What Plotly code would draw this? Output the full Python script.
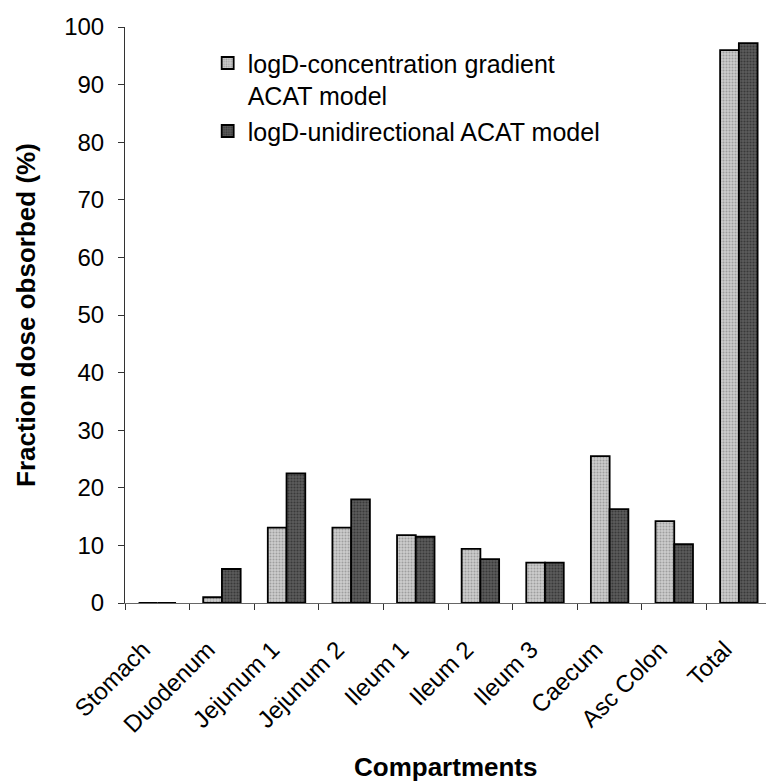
import plotly.graph_objects as go

compartments = ["Stomach", "Duodenum", "Jejunum 1", "Jejunum 2", "Ileum 1",
                "Ileum 2", "Ileum 3", "Caecum", "Asc Colon", "Total"]
conc_gradient = [0, 1.0, 13.1, 13.1, 11.8, 9.4, 7.0, 25.5, 14.2, 96.0]
unidirectional = [0, 5.9, 22.5, 18.0, 11.5, 7.6, 7.0, 16.3, 10.2, 97.2]
y_ticks = list(range(0, 101, 10))

FONT = "Arial, Liberation Sans, sans-serif"

fig = go.Figure()
fig.add_trace(go.Bar(
    x=compartments, y=conc_gradient,
    name="logD-concentration gradient<br>ACAT model",
    marker=dict(color="#bdbdbd",
                line=dict(color="black", width=1.8),
                pattern=dict(shape=".", fgcolor="#707070", bgcolor="#cccccc",
                             size=3, solidity=0.35)),
))
fig.add_trace(go.Bar(
    x=compartments, y=unidirectional,
    name="logD-unidirectional ACAT model",
    marker=dict(color="#404040",
                line=dict(color="black", width=1.8),
                pattern=dict(shape=".", fgcolor="#151515", bgcolor="#5c5c5c",
                             size=3, solidity=0.4)),
))

# axis titles placed as annotations for precise positioning
fig.add_annotation(text="<b>Compartments</b>", xref="paper", yref="paper",
                   x=0.5, y=-0.285, xanchor="center", yanchor="middle",
                   showarrow=False, font=dict(size=26, family=FONT))
fig.add_annotation(text="<b>Fraction dose obsorbed (%)</b>", xref="paper", yref="paper",
                   x=-0.1545, y=0.5, xanchor="center", yanchor="middle",
                   textangle=-90, showarrow=False, font=dict(size=26, family=FONT))

fig.update_layout(
    width=766, height=781,
    margin=dict(l=125, r=0, t=27, b=178),
    paper_bgcolor="white", plot_bgcolor="white",
    barmode="group", bargap=0.42, bargroupgap=0,
    font=dict(family=FONT, size=24, color="black"),
    showlegend=True,
    legend=dict(x=0.129, y=0.977, xanchor="left", yanchor="top",
                bgcolor="rgba(0,0,0,0)", font=dict(size=25, family=FONT),
                valign="top", tracegroupgap=12),
    xaxis=dict(
        range=[-0.5, 9.42], automargin=False,
        showline=True, linecolor="#666666", linewidth=1,
        ticks="outside", tickson="boundaries", ticklen=6, tickcolor="#333333",
        tickangle=-45, tickfont=dict(size=24, family=FONT),
        ticklabelstandoff=22, ticklabelshift=-14,
        showgrid=False, zeroline=False,
    ),
    yaxis=dict(
        range=[0, 100], tickvals=y_ticks, automargin=False,
        showline=True, linecolor="#333333", linewidth=1,
        ticks="outside", ticklen=6, tickcolor="#333333",
        tickfont=dict(size=24, family=FONT), ticklabelstandoff=9,
        showgrid=False, zeroline=False,
    ),
)

fig.write_html("out.html")
